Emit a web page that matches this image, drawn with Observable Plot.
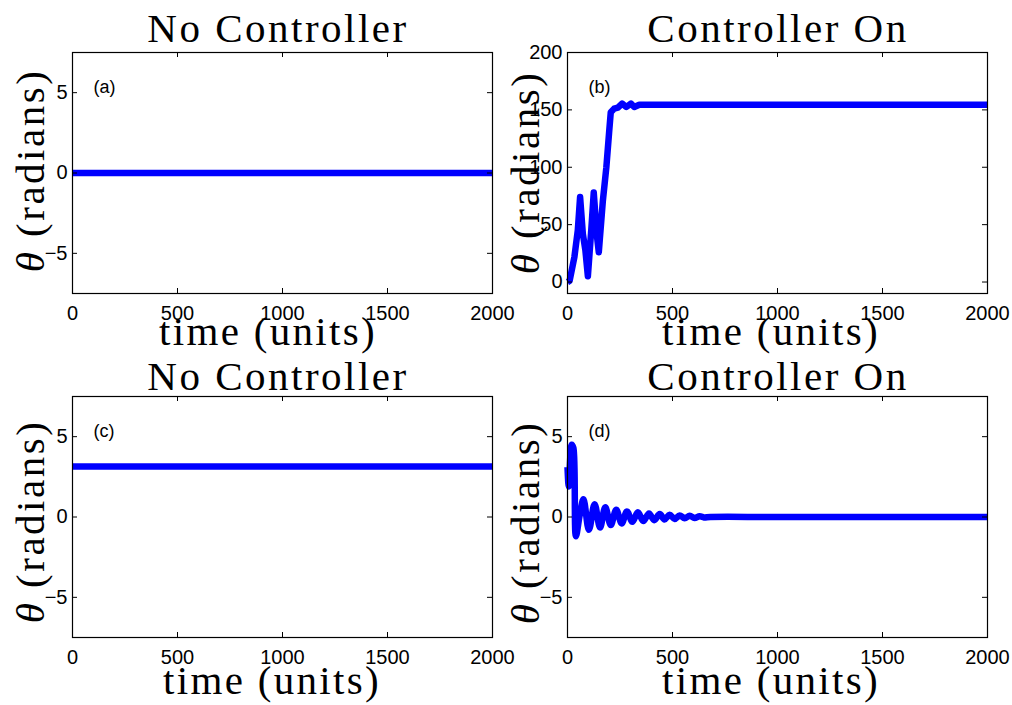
<!DOCTYPE html>
<html><head><meta charset="utf-8">
<script src="https://cdn.jsdelivr.net/npm/d3@7"></script>
<script src="https://cdn.jsdelivr.net/npm/@observablehq/plot@0.6"></script>
<style>
body{margin:0;background:#fff;}
#wrap{position:relative;width:1012px;height:705px;background:#fff;overflow:hidden;}
#wrap svg{position:absolute;overflow:visible;}
</style></head><body><div id="wrap"></div>
<script>
// ---- data ----
const xTicks = [0, 500, 1000, 1500, 2000];
const yTicksSmall = [-5, 0, 5];
const yTicksB = [0, 50, 100, 150, 200];

const timeA = [0, 2000];
const thetaA = [0, 0];

const timeB = [0, 10, 33, 49, 60, 73, 85, 97, 113, 125, 139, 149, 168, 185, 198, 206, 222, 240, 260, 280, 302, 318, 342, 400, 1000, 2000];
const thetaB = [0, 1, 22, 45, 74, 42, 28, 5, 45, 78, 42, 26, 70, 100, 130, 148, 151, 152, 155.5, 152.5, 155.5, 152.5, 154.5, 154.5, 154.5, 154.5];

const timeC = [0, 2000];
const thetaC = [3.14, 3.14];

const timeD = [0, 6, 20, 28, 40, 58, 76, 102, 129, 155, 180, 206, 232, 258, 283, 309, 335, 361, 388, 413, 439, 462, 486, 510, 534, 558, 582, 605, 629, 650, 680, 1000, 2000];
const thetaD = [3.1, 1.9, 4.5, 4.3, -1.2, 0.1, 1.1, -0.8, 0.8, -0.65, 0.6, -0.5, 0.45, -0.4, 0.35, -0.3, 0.3, -0.25, 0.22, -0.2, 0.18, -0.15, 0.14, -0.12, 0.1, -0.08, 0.08, -0.06, 0.05, -0.03, 0, 0, 0];

const titles = ["No Controller", "Controller On", "No Controller", "Controller On"];
const tags = ["(a)", "(b)", "(c)", "(d)"];
const xLabel = "time (units)";
const yLabelUnit = "(radians)";

// ---- layout ----
const W = 512, H = 363, ML = 72, MR = 20, MT = 52, MB = 70;
const FW = W - ML - MR, FH = H - MT - MB;
const serif = "'Liberation Serif', 'Times New Roman', serif";
const sans = "'Liberation Sans', Arial, Helvetica, sans-serif";
const fmt = d => d < 0 ? "\u2212" + (-d) : String(d);

function panel(cfg) {
  const data = cfg.time.map((t, i) => ({t, v: cfg.theta[i]}));
  const svg = Plot.plot({
    width: W, height: H,
    marginLeft: ML, marginRight: MR, marginTop: MT, marginBottom: MB,
    style: {background: "transparent", overflow: "visible", fontFamily: sans, fontSize: "20px", color: "black"},
    x: {domain: [0, 2000]},
    y: {domain: cfg.yDomain},
    marks: [
      Plot.line(data, {x: "t", y: "v", stroke: "#0000ff", strokeWidth: 6.5, curve: cfg.curve, strokeLinejoin: "round", strokeLinecap: "butt"}),
      Plot.frame({stroke: "black", strokeWidth: 1.2}),
      Plot.tickX(xTicks, {x: d => d, stroke: "black", insetBottom: FH - 5}),
      Plot.tickX(xTicks, {x: d => d, stroke: "black", insetTop: FH - 5}),
      Plot.tickY(cfg.yTicks, {y: d => d, stroke: "black", insetRight: FW - 5}),
      Plot.tickY(cfg.yTicks, {y: d => d, stroke: "black", insetLeft: FW - 5}),
      Plot.axisX(xTicks, {tickSize: 0, tickPadding: 12, tickFormat: fmt, label: null, fontSize: 20}),
      Plot.axisY(cfg.yTicks, {tickSize: 0, tickPadding: 5, tickFormat: fmt, label: null, fontSize: 20}),
      Plot.text([cfg.tag], {text: d => d, frameAnchor: "top-left", dx: 21, dy: 28, fontSize: 18, textAnchor: "start", fill: "black"})
    ]
  });
  svg.style.left = cfg.left + "px";
  svg.style.top = cfg.top + "px";
  const s = d3.select(svg);
  const cx = ML + FW / 2;
  // title
  s.append("text").attr("x", cx + cfg.titleDx).attr("y", cfg.titleBase)
    .attr("text-anchor", "middle").style("font-family", serif).style("font-size", "41px")
    .style("letter-spacing", "2.5px").attr("fill", "black").text(cfg.title);
  // x label
  s.append("text").attr("x", cx + cfg.xlabDx).attr("y", cfg.xlabBase)
    .attr("text-anchor", "middle").style("font-family", serif).style("font-size", "41px")
    .style("letter-spacing", "2.3px").attr("fill", "black").text(xLabel);
  // y label
  const yl = s.append("text")
    .attr("transform", `translate(${ML - 28.5},${MT + FH / 2 + cfg.ylabDy}) rotate(-90)`)
    .attr("text-anchor", "middle").style("font-family", serif).style("font-size", "41px")
    .style("letter-spacing", "2.5px").attr("fill", "black");
  yl.append("tspan").style("font-style", "italic").text("\u03b8");
  yl.append("tspan").text(" " + yLabelUnit);
  document.getElementById("wrap").appendChild(svg);
}

panel({time: timeA, theta: thetaA, yDomain: [-7.5, 7.5], yTicks: yTicksSmall, curve: "linear", tag: tags[0], title: titles[0],
  left: 0, top: 0, titleDx: -4, titleBase: 42, xlabDx: -14, xlabBase: 345, ylabDy: -2});
panel({time: timeB, theta: thetaB, yDomain: [-10, 200], yTicks: yTicksB, curve: "linear", tag: tags[1], title: titles[1],
  left: 495, top: 0, titleDx: 1, titleBase: 42, xlabDx: -6, xlabBase: 345, ylabDy: 0});
panel({time: timeC, theta: thetaC, yDomain: [-7.5, 7.5], yTicks: yTicksSmall, curve: "linear", tag: tags[2], title: titles[2],
  left: 0, top: 344, titleDx: -4, titleBase: 46, xlabDx: -10, xlabBase: 350, ylabDy: 5});
panel({time: timeD, theta: thetaD, yDomain: [-7.5, 7.5], yTicks: yTicksSmall, curve: "catmull-rom", tag: tags[3], title: titles[3],
  left: 495, top: 344, titleDx: 1, titleBase: 46, xlabDx: -6, xlabBase: 350, ylabDy: 6});
</script></body></html>
